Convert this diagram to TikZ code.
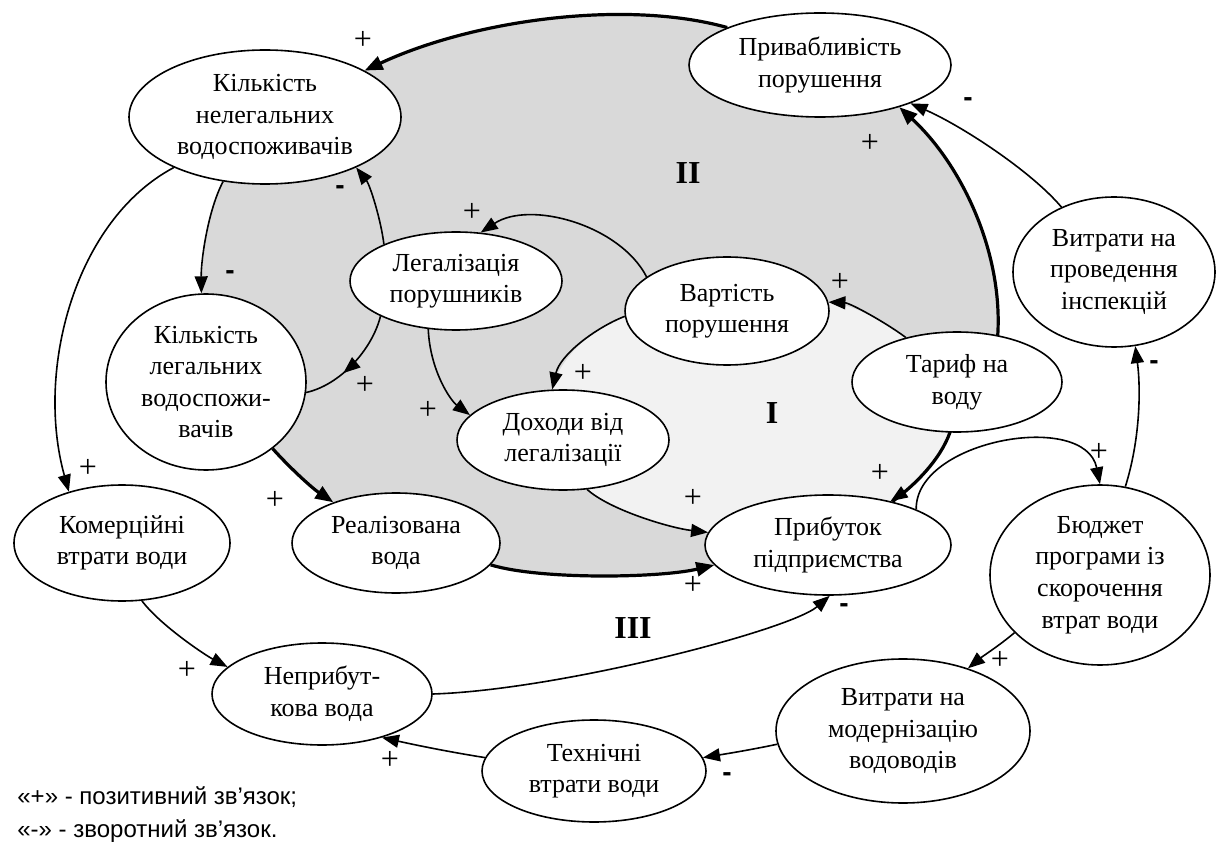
\documentclass[tikz,border=0pt]{standalone}
\usepackage{fontspec}
\setmainfont{Liberation Serif}
\newfontfamily\legendfont{Liberation Sans}
\usetikzlibrary{shapes.geometric,arrows.meta,decorations.markings}
\pgfdeclarelayer{bg}
\pgfdeclarelayer{edges}
\pgfsetlayers{bg,edges,main}
\definecolor{darkfill}{RGB}{217,217,217}
\definecolor{lightfill}{RGB}{242,242,242}
\tikzset{
  bub/.style={ellipse, draw, fill=white, line width=0.8pt, inner sep=0pt, align=center,
    font=\fontsize{13}{15.8}\selectfont},
  link/.style={line width=0.8pt, -{Triangle[length=8.5pt,width=6.5pt]}},
  thicklink/.style={line width=1.6pt, -{Triangle[length=9pt,width=7pt]}},
  sign/.style={font=\fontsize{16}{16}\selectfont, inner sep=0pt},
  minus/.style={font=\legendfont\bfseries\fontsize{14}{14}\selectfont, inner sep=0pt},
  roman/.style={font=\fontsize{16}{16}\selectfont\bfseries, inner sep=0pt},
  legtext/.style={anchor=base west, inner sep=0pt, font=\legendfont\fontsize{12}{12}\selectfont},
}
\begin{document}
\begin{tikzpicture}[x=0.5pt,y=-0.5pt]
\useasboundingbox (0,0) rectangle (1216,850);

% nodes
\node[bub, minimum width=136pt, minimum height=67pt] (nel) at (265,117) {Кількість\\нелегальних\\водоспоживачів};
\node[bub, minimum width=131pt, minimum height=52pt] (pri) at (820,65) {Привабливість\\порушення};
\node[bub, minimum width=106pt, minimum height=49pt] (leg) at (456,281) {Легалізація\\порушників};
\node[bub, minimum width=102pt, minimum height=54pt] (var) at (727,311) {Вартість\\порушення};
\node[bub, minimum width=105pt, minimum height=50pt] (tar) at (957,382) {Тариф на\\воду};
\node[bub, minimum width=101pt, minimum height=75pt] (vin) at (1114,272) {Витрати на\\проведення\\інспекцій};
\node[bub, minimum width=100pt, minimum height=88pt] (kl) at (206,382) {Кількість\\легальних\\водоспожи-\\вачів};
\node[bub, minimum width=106pt, minimum height=50pt] (dox) at (563,440) {Доходи від\\легалізації};
\node[bub, minimum width=108pt, minimum height=58pt] (kom) at (122,543) {Комерційні\\втрати води};
\node[bub, minimum width=104pt, minimum height=50pt] (real) at (396,543) {Реалізована\\вода};
\node[bub, minimum width=123pt, minimum height=50pt] (prib) at (828,545) {Прибуток\\підприємства};
\node[bub, minimum width=110pt, minimum height=90pt] (bud) at (1100,575) {Бюджет\\програми із\\скорочення\\втрат води};
\node[bub, minimum width=110pt, minimum height=51pt] (nep) at (322,694) {Неприбут-\\кова вода};
\node[bub, minimum width=112pt, minimum height=51pt] (tech) at (594,771) {Технічні\\втрати води};
\node[bub, minimum width=127pt, minimum height=72pt] (mod) at (903,731) {Витрати на\\модернізацію\\водоводів};

% shaded loop areas
\begin{pgfonlayer}{bg}
\fill[darkfill] (pri.158) .. controls (625,-1) and (473,20) .. (nel.25) -- (nel.center)
  -- (nel.237) .. controls (208,210) and (201,260) .. (kl.93) -- (kl.center)
  -- (kl.315) .. controls (290,468) and (312,488) .. (real.147) -- (real.center)
  -- (real.347) .. controls (540,580) and (660,578) .. (prib.190) -- (prib.center)
  -- (prib.34) .. controls (915,485) and (940,460) .. (tar.262)
  .. controls (960,400) and (995,380) .. (tar.49)
  .. controls (1003,250) and (960,163) .. (pri.332) -- (pri.center) -- cycle;
\fill[lightfill] (var.183) .. controls (595,328) and (560,355) .. (dox.102) -- (dox.center)
  -- (dox.296) .. controls (610,510) and (670,528) .. (prib.174) -- (prib.center)
  -- (prib.35) .. controls (915,485) and (940,460) .. (tar.262) -- (tar.center)
  -- (tar.139) .. controls (885,322) and (850,303) .. (var.5) -- (var.center) -- cycle;
\end{pgfonlayer}

% connectors
\begin{pgfonlayer}{edges}
\draw[thicklink] (pri.158) .. controls (625,-1) and (473,20) .. (nel.25);
\draw[thicklink] (prib.34) .. controls (915,485) and (940,460) .. (tar.262)
  .. controls (960,400) and (995,380) .. (tar.49)
  .. controls (1003,250) and (960,163) .. (pri.332);
\draw[thicklink] (kl.315) .. controls (290,468) and (312,488) .. (real.147);
\draw[thicklink] (real.347) .. controls (540,580) and (660,578) .. (prib.190);
\draw[link] (var.157) .. controls (620,225) and (530,200) .. (leg.63);
\draw[link] (vin.129) .. controls (1030,170) and (960,125) .. (pri.337);
\draw[link] (tar.139) .. controls (885,322) and (850,303) .. (var.5);
\draw[link] (var.183) .. controls (595,328) and (560,355) .. (dox.102);
\draw[link] (leg.153) .. controls (381,220) and (370,185) .. (nel.331);
\draw[link] (nel.237) .. controls (208,210) and (201,260) .. (kl.93);
\draw[line width=0.8pt, postaction={decorate}, decoration={markings,
  mark=at position 0.62 with {\arrow{Triangle[length=8.5pt,width=6.5pt]}}}]
  (leg.205) .. controls (372,350) and (340,385) .. (kl.354);
\draw[link] (leg.240) .. controls (430,370) and (450,400) .. (dox.165);
\draw[link] (dox.296) .. controls (610,510) and (670,528) .. (prib.174);
\draw[link] (tar.262) .. controls (940,460) and (915,485) .. (prib.35);
\draw[link] (prib.22) .. controls (915,440) and (1085,410) .. (bud.90);
\draw[link] (bud.74) .. controls (1140,440) and (1141,390) .. (vin.286);
\draw[link] (bud.214) .. controls (1000,645) and (983,656) .. (mod.44);
\draw[link] (mod.186) .. controls (750,750) and (725,754) .. (tech.7);
\draw[link] (tech.173) .. controls (450,752) and (420,746) .. (nep.324);
\draw[link] (kom.289) .. controls (160,625) and (205,655) .. (nep.164);
\draw[link] (nep.0) .. controls (560,690) and (790,630) .. (prib.272);
\draw[link] (nel.209) .. controls (75,220) and (35,370) .. (kom.136);
\end{pgfonlayer}

% signs
\node[sign] (s1) at (363,40) {+};
\node[minus] (s2) at (340,190) {-};
\node[minus] (s3) at (230,275) {-};
\node[sign] (s4) at (472,212) {+};
\node[sign] (s5) at (870,143) {+};
\node[minus] (s6) at (968,102) {-};
\node[sign] (s7) at (840,282) {+};
\node[sign] (s8) at (583,373) {+};
\node[sign] (s9) at (365,385) {+};
\node[sign] (s10) at (428,410) {+};
\node[sign] (s11) at (88,468) {+};
\node[sign] (s12) at (275,500) {+};
\node[sign] (s13) at (880,473) {+};
\node[sign] (s14) at (1099,452) {+};
\node[minus] (s15) at (1154,365) {-};
\node[sign] (s16) at (693,498) {+};
\node[sign] (s17) at (693,585) {+};
\node[minus] (s18) at (844,608) {-};
\node[sign] (s19) at (187,670) {+};
\node[sign] (s20) at (1000,660) {+};
\node[minus] (s21) at (727,777) {-};
\node[sign] (s22) at (390,760) {+};

% loop labels
\node[roman] (r2) at (688,173) {II};
\node[roman] (r1) at (772,413) {I};
\node[roman] (r3) at (633,628) {III};

% legend
\node[legtext] (lg1) at (17,804) {«+» - позитивний зв’язок;};
\node[legtext] (lg2) at (17,837) {«-» - зворотний зв’язок.};
\end{tikzpicture}
\end{document}
